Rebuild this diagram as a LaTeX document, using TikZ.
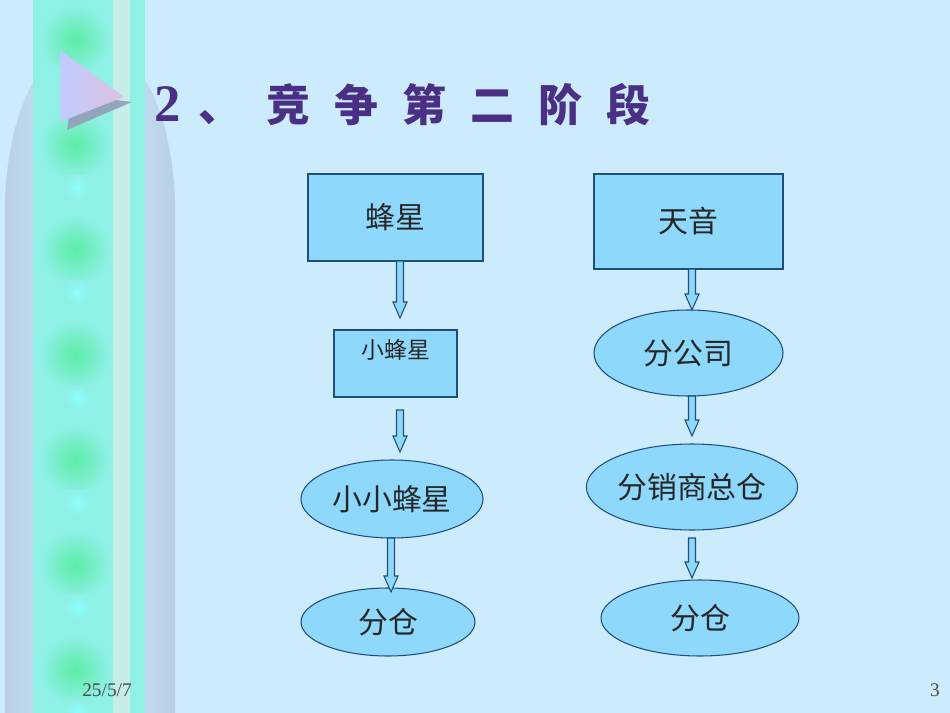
\documentclass[tikz,border=0pt]{standalone}
\usepackage{fontspec}
\setmainfont{Liberation Serif}
\newfontfamily\cjk{Noto Sans CJK SC}
\usetikzlibrary{shapes.geometric,calc}
\definecolor{bgblue}{HTML}{CCEBFD}
\definecolor{boxfill}{HTML}{8ED8FC}
\definecolor{boxline}{HTML}{1F4E79}
\definecolor{titlecol}{HTML}{4A2F85}
\definecolor{stripgray}{HTML}{A9C3DE}
\definecolor{stripcyan}{HTML}{8FF0E6}
\definecolor{stripgreen}{HTML}{5CEDA6}
\newdimen\px \px=0.02cm
\tikzset{
  box/.style={draw=boxline, fill=boxfill, line width=0.6pt, rectangle, inner sep=0pt},
  oval/.style={draw=boxline, fill=boxfill, line width=0.6pt, ellipse, inner sep=0pt},
  label/.style={font=\cjk\fontsize{17}{17}\selectfont, text=black!85},
  blockarrow/.style={draw=boxline, fill=boxfill, line width=0.6pt},
}
% hollow block arrow between two named coordinates (vertical)
\newcommand{\blockarrow}[2]{%
  \draw[blockarrow] let \p1=(#1), \p2=(#2) in
    (\x1-3.5\px,\y1) -- (\x1+3.5\px,\y1) -- (\x1+3.5\px,\y2+16\px) -- (\x1+7\px,\y2+16\px)
    -- (\x1,\y2) -- (\x1-7\px,\y2+16\px) -- (\x1-3.5\px,\y2+16\px) -- cycle;}
\newcommand{\tsp}{\hspace{0.55em}}
\begin{document}
\begin{tikzpicture}[x=0.02cm, y=-0.02cm]
  \fill[bgblue] (0,0) rectangle (950,713);
  \useasboundingbox (0,0) rectangle (950,713);
  % left decoration
  \shade[left color=stripgray!80, right color=stripgray!80, middle color=bgblue]
    (5,713) -- (5,200) .. controls (10,80) and (60,40) .. (90,40)
    .. controls (120,40) and (170,80) .. (175,200) -- (175,713) -- cycle;
  \fill[stripcyan] (33,0) rectangle (145,713);
  \foreach \y in {0,105,...,700}{
    \shade[inner color=stripgreen, outer color=stripcyan] (40,\y+5) rectangle (110,\y+75);
    \shade[inner color=cyan!45, outer color=stripcyan] (65,\y+70) rectangle (90,\y+95);
  }
  \fill[white!70!pink, opacity=0.5] (113,0) rectangle (130,713);
  \fill[stripgray!80!black!90] (67,130) -- (132,102) -- (72,95) -- cycle;
  \shade[left color=cyan!20!blue!25, right color=violet!25] (60,50) -- (124,97) -- (60,122) -- cycle;
  % title
  \node[anchor=west, text=titlecol, font=\cjk\bfseries\fontsize{25}{25}\selectfont] (title) at (148,105)
    {{\rmfamily\fontsize{30}{30}\selectfont 2}\hspace{0.4em}、\tsp 竞\tsp 争\tsp 第\tsp 二\tsp 阶\tsp 段};
  % left column
  \node[box, minimum width=175\px, minimum height=87\px, label] (feng) at (395.5,217.5) {蜂星};
  \node[box, minimum width=123\px, minimum height=67\px] (xfeng) at (395.5,363.5) {};
  \node[font=\cjk\fontsize{13}{13}\selectfont, text=black!85] (xfengt) at (396,350) {小蜂星};
  \node[oval, minimum width=182\px, minimum height=78\px, label] (xxfeng) at (392,499) {小小蜂星};
  \node[oval, minimum width=174\px, minimum height=68\px, label] (cangl) at (388,622) {分仓};
  % right column
  \node[box, minimum width=189\px, minimum height=95\px, label] (tian) at (688.5,221.5) {天音};
  \node[oval, minimum width=189\px, minimum height=86\px, label] (fgs) at (688.5,353) {分公司};
  \node[oval, minimum width=182\px, minimum height=86\px, label] (zc) at (692,487) {分销商总仓};
  \node[oval, minimum width=198\px, minimum height=76\px, label] (cangr) at (700,618) {分仓};
  % arrow ends
  \coordinate (a1) at (400,261); \coordinate (b1) at (400,318);
  \coordinate (a2) at (400,410); \coordinate (b2) at (400,452);
  \coordinate (a3) at (391,538); \coordinate (b3) at (391,592);
  \coordinate (a4) at (692,269); \coordinate (b4) at (692,310);
  \coordinate (a5) at (692,396); \coordinate (b5) at (692,436);
  \coordinate (a6) at (692,538); \coordinate (b6) at (692,578);
  \foreach \i in {1,...,6}{\blockarrow{a\i}{b\i}}
  % footer
  \node[font=\fontsize{11}{11}\selectfont, text=black!70] (date) at (107,690) {25/5/7};
  \node[font=\fontsize{11}{11}\selectfont, text=black!70] (page) at (935,690) {3};
\end{tikzpicture}
\end{document}
